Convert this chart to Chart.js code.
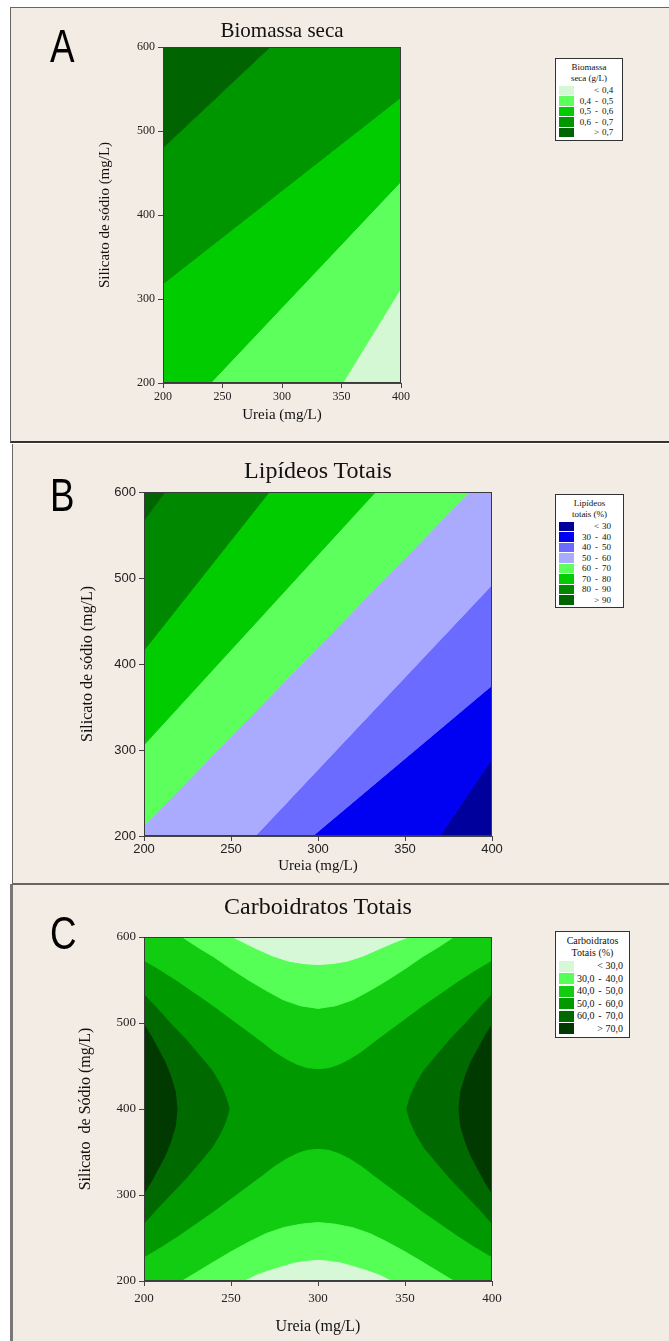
<!DOCTYPE html>
<html lang="pt">
<head>
<meta charset="utf-8">
<title>Superfícies de resposta</title>
<script src="https://cdn.jsdelivr.net/npm/chart.js@4.4.1/dist/chart.umd.min.js"></script>
<style>
  body { margin: 0; width: 669px; height: 1341px; position: relative; overflow: hidden; background: #fff;
         font-family: 'Liberation Serif', 'Times New Roman', serif; }
  .panel { position: absolute; background: #f3ece4; box-sizing: border-box; }
  canvas { position: absolute; left: 0; }
  .ttl { position: absolute; transform: translate(-50%, -50%); white-space: nowrap; color: #111; }
  .tag { position: absolute; font-family: 'Liberation Sans', Arial, sans-serif; font-size: 46px; line-height: 1;
         color: #000; transform: scaleX(0.8); transform-origin: left top; }
  .leg { position: absolute; background: #fff; border: 1px solid #333; font-size: 9px; color: #111;
         padding: 3px 3px 2px 3px; box-sizing: border-box; }
  .leg .hd { text-align: center; line-height: 10.5px; }
  .leg table { border-collapse: collapse; margin-top: 2px; }
  .leg td { padding: 0; height: 10.5px; line-height: 10px; white-space: nowrap; }
  .leg .sw { width: 15px; height: 9.5px; margin-right: 3px; }
  .leg .a { text-align: right; min-width: 14px; }
  .leg .m { text-align: center; width: 11px; }
  .leg .b { text-align: right; }
  #legC { font-size: 10px; }
  #legC .hd { line-height: 11.5px; }
  #legC td { height: 12.5px; line-height: 12px; }
  #legC .sw { height: 11px; }
</style>
</head>
<body>
<div class="panel" style="left:10px;top:7px;width:662px;height:436px;border:1px solid #666;border-bottom:2px solid #333"></div>
<div class="panel" style="left:12px;top:444px;width:660px;height:440px;border-left:1px solid #666;border-bottom:1px solid #666"></div>
<div class="panel" style="left:10px;top:884px;width:662px;height:470px;border-left:3px solid #777;border-top:1px solid #666"></div>

<canvas id="cA" width="555" height="440" style="top:0px"></canvas>
<canvas id="cB" width="555" height="436" style="top:445px"></canvas>
<canvas id="cC" width="555" height="460" style="top:884px"></canvas>

<div class="tag" style="left:50px;top:23px">A</div>
<div class="tag" style="left:50px;top:472px">B</div>
<div class="tag" style="left:50px;top:910px">C</div>

<div class="ttl" style="left:282px;top:30px;font-size:21px">Biomassa seca</div>
<div class="ttl" style="left:318px;top:470px;font-size:24px">Lipídeos Totais</div>
<div class="ttl" style="left:318px;top:906px;font-size:24px">Carboidratos Totais</div>

<div class="leg" id="legA" style="left:555px;top:58px;width:68px"></div>
<div class="leg" id="legB" style="left:555px;top:494px;width:69px"></div>
<div class="leg" id="legC" style="left:555px;top:931px;width:75px"></div>

<script>
// eixos comuns
const xTicks = [200, 250, 300, 350, 400];
const yTicks = [200, 300, 400, 500, 600];

// A - Biomassa seca (g/L): faixas, vértices (ureia, silicato)
const bioHead = ['Biomassa', 'seca (g/L)'];
const bioLabels = [['', '<', '0,4'], ['0,4', '-', '0,5'], ['0,5', '-', '0,6'], ['0,6', '-', '0,7'], ['', '>', '0,7']];
const bioColors = ['#d4f8d4', '#5cff5c', '#00cc00', '#009600', '#006400'];
const bioBands = [
    [[351, 200], [400, 313], [400, 200]],
    [[240, 200], [400, 440], [400, 313], [351, 200]],
    [[200, 318], [400, 540], [400, 440], [240, 200], [200, 200]],
    [[200, 480], [290, 600], [400, 600], [400, 540], [200, 318]],
    [[200, 600], [290, 600], [200, 480]]
];

// B - Lipídeos totais (%)
const lipHead = ['Lipídeos', 'totais (%)'];
const lipLabels = [['', '<', '30'], ['30', '-', '40'], ['40', '-', '50'], ['50', '-', '60'],
                   ['60', '-', '70'], ['70', '-', '80'], ['80', '-', '90'], ['', '>', '90']];
const lipColors = ['#00009c', '#0000f2', '#6b6bff', '#aaaaff', '#5cff5c', '#00cc00', '#008800', '#006400'];
const lipBands = [
    [[370, 200], [400, 290], [400, 200]],
    [[297, 200], [400, 375], [400, 290], [370, 200]],
    [[264, 200], [400, 492], [400, 375], [297, 200]],
    [[200, 212], [387, 600], [400, 600], [400, 492], [264, 200], [200, 200]],
    [[200, 306], [333, 600], [387, 600], [200, 212]],
    [[200, 416], [272, 600], [333, 600], [200, 306]],
    [[200, 567], [212, 600], [272, 600], [200, 416]],
    [[200, 600], [212, 600], [200, 567]]
];

// C - Carboidratos totais (%): curvas de nível
const carbHead = ['Carboidratos', 'Totais (%)'];
const carbLabels = [['', '<', '30,0'], ['30,0', '-', '40,0'], ['40,0', '-', '50,0'],
                    ['50,0', '-', '60,0'], ['60,0', '-', '70,0'], ['', '>', '70,0']];
const carbColors = ['#d6f8d6', '#55ff55', '#11cc11', '#009900', '#006a00', '#003a00'];
const carbTop50 = [[200, 573], [210, 561], [220, 548], [230, 534], [240, 520], [250, 505], [260, 490], [268, 478],
                   [275, 467], [282, 458], [288, 452], [294, 448], [300, 447], [306, 448], [312, 452], [318, 458],
                   [325, 467], [332, 478], [340, 490], [350, 505], [360, 520], [370, 534], [380, 548], [390, 561], [400, 573]];
const carbTop40 = [[222, 600], [231, 588], [240, 577], [250, 563], [260, 550], [270, 538], [280, 527], [290, 520],
                   [300, 517], [310, 520], [320, 527], [330, 538], [340, 550], [350, 563], [360, 577], [369, 588], [378, 600]];
const carbTop30 = [[251, 600], [258, 593], [265, 586], [274, 578], [283, 572], [292, 569], [300, 568],
                   [308, 569], [317, 572], [326, 578], [335, 586], [343, 593], [352, 600]];
const carbBot50 = [[200, 227], [210, 239], [220, 252], [230, 266], [240, 280], [250, 295], [260, 310], [268, 322],
                   [275, 333], [282, 342], [288, 348], [294, 352], [300, 353], [306, 352], [312, 348], [318, 342],
                   [325, 333], [332, 322], [340, 310], [350, 295], [360, 280], [370, 266], [380, 252], [390, 239], [400, 227]];
const carbBot40 = [[222, 200], [231, 211], [240, 222], [250, 234], [260, 245], [270, 255], [280, 262], [290, 266],
                   [300, 268], [310, 266], [320, 262], [330, 255], [340, 245], [350, 234], [360, 222], [369, 211], [378, 200]];
const carbBot30 = [[258, 200], [265, 207], [272, 212], [280, 217], [287, 221], [294, 223], [300, 224],
                   [306, 223], [313, 221], [320, 217], [328, 212], [335, 207], [342, 200]];
const carbLeft60 = [[200, 533], [207, 518], [215, 500], [224, 481], [232, 462], [239, 445], [244, 428], [247, 414],
                    [249, 400], [247, 386], [244, 372], [239, 355], [232, 338], [224, 319], [215, 300], [207, 283], [200, 267]];
const carbLeft70 = [[200, 498], [204, 485], [208, 470], [212, 455], [215, 440], [218, 420], [219, 400],
                    [218, 380], [215, 360], [212, 345], [208, 330], [204, 315], [200, 302]];
const carbRight60 = [[400, 533], [393, 518], [385, 500], [376, 481], [368, 462], [361, 445], [356, 428], [353, 414],
                     [351, 400], [353, 386], [356, 372], [361, 355], [368, 338], [376, 319], [385, 300], [393, 283], [400, 267]];
const carbRight70 = [[400, 498], [396, 485], [392, 470], [388, 455], [385, 440], [382, 420], [381, 400],
                     [382, 380], [385, 360], [388, 345], [392, 330], [396, 315], [400, 302]];

// caixa em volta da área do gráfico
const frame = {
    id: 'frame',
    afterDatasetsDraw(chart) {
        const { ctx, chartArea: a } = chart;
        ctx.save();
        ctx.strokeStyle = '#3a3a3a';
        ctx.lineWidth = 1;
        ctx.strokeRect(a.left + 0.5, a.top + 0.5, a.right - a.left - 1, a.bottom - a.top - 1);
        ctx.restore();
    }
};

function buildLegend(id, head, rows, colors) {
    let html = '<div class="hd">' + head.join('<br>') + '</div><table>';
    rows.forEach((r, i) => {
        html += `<tr><td><div class="sw" style="background:${colors[i]}"></div></td>` +
                `<td class="a">${r[0]}</td><td class="m">${r[1]}</td><td class="b">${r[2]}</td></tr>`;
    });
    document.getElementById(id).innerHTML = html + '</table>';
}

// geo: área do gráfico em coordenadas da página, posição dos títulos dos eixos
function drawPanel(id, geo, shapes, f) {
    const cv = document.getElementById(id);
    const top = geo.top;
    const padLeft = geo.yTitleX - f.yTitle * 0.6;
    const xBottom = geo.xTitleY + f.xTitle * 0.6;
    const tickFont = { family: f.tickFamily, size: f.tick };

    new Chart(cv, {
        type: 'scatter',
        data: {
            datasets: shapes.map((s, i) => ({
                data: s.pts.concat([s.pts[0]]).map(p => ({ x: p[0], y: p[1] })),
                showLine: true,
                fill: 'shape',
                backgroundColor: s.color,
                borderColor: s.color,
                borderWidth: 1,
                pointRadius: 0,
                pointHoverRadius: 0,
                tension: 0,
                order: shapes.length - i
            }))
        },
        options: {
            responsive: false,
            animation: false,
            events: [],
            layout: {
                padding: { left: padLeft, top: geo.T - top, right: cv.width - geo.R, bottom: top + cv.height - xBottom }
            },
            scales: {
                x: {
                    type: 'linear', min: 200, max: 400,
                    afterBuildTicks: s => { s.ticks = xTicks.map(v => ({ value: v })); },
                    afterFit: s => { s.height = xBottom - geo.B; },
                    grid: { drawOnChartArea: false, tickLength: 5, color: '#444' },
                    border: { color: '#444' },
                    ticks: { font: tickFont, color: '#222', padding: geo.tickPad, autoSkip: false, maxRotation: 0 },
                    title: { display: true, text: 'Ureia (mg/L)', color: '#111', padding: 0,
                             font: { family: 'Liberation Serif', size: f.xTitle } }
                },
                y: {
                    type: 'linear', min: 200, max: 600,
                    afterBuildTicks: s => { s.ticks = yTicks.map(v => ({ value: v })); },
                    afterFit: s => { s.width = geo.L - padLeft; },
                    grid: { drawOnChartArea: false, tickLength: 5, color: '#444' },
                    border: { color: '#444' },
                    ticks: { font: tickFont, color: '#222', padding: 3, autoSkip: false },
                    title: { display: true, text: geo.yTitle, color: '#111', padding: 0,
                             font: { family: 'Liberation Serif', size: f.yTitle } }
                }
            },
            plugins: { legend: { display: false }, tooltip: { enabled: false } }
        },
        plugins: [frame]
    });
}

buildLegend('legA', bioHead, bioLabels, bioColors);
buildLegend('legB', lipHead, lipLabels, lipColors);
buildLegend('legC', carbHead, carbLabels, carbColors);

drawPanel('cA',
    { top: 0, L: 163, T: 47, R: 401, B: 383, yTitleX: 105, xTitleY: 415, tickPad: 2, yTitle: 'Silicato de sódio (mg/L)' },
    bioBands.map((pts, i) => ({ pts, color: bioColors[i] })),
    { tickFamily: 'Liberation Serif', tick: 12, xTitle: 15, yTitle: 15 });

drawPanel('cB',
    { top: 445, L: 144, T: 492, R: 492, B: 836, yTitleX: 88, xTitleY: 866, tickPad: 1, yTitle: 'Silicato de sódio (mg/L)' },
    lipBands.map((pts, i) => ({ pts, color: lipColors[i] })),
    { tickFamily: 'Liberation Sans', tick: 13, xTitle: 15, yTitle: 16 });

drawPanel('cC',
    { top: 884, L: 144, T: 937, R: 492, B: 1281, yTitleX: 86, xTitleY: 1327, tickPad: 5, yTitle: 'Silicato  de Sódio (mg/L)' },
    [
        { pts: [[200, 200], [400, 200], [400, 600], [200, 600]], color: carbColors[3] },
        { pts: carbTop50.concat([[400, 600], [200, 600]]), color: carbColors[2] },
        { pts: carbBot50.concat([[400, 200], [200, 200]]), color: carbColors[2] },
        { pts: carbLeft60, color: carbColors[4] },
        { pts: carbRight60, color: carbColors[4] },
        { pts: carbTop40, color: carbColors[1] },
        { pts: carbBot40, color: carbColors[1] },
        { pts: carbTop30, color: carbColors[0] },
        { pts: carbBot30, color: carbColors[0] },
        { pts: carbLeft70, color: carbColors[5] },
        { pts: carbRight70, color: carbColors[5] }
    ],
    { tickFamily: 'Liberation Serif', tick: 13, xTitle: 16, yTitle: 16 });
</script>
</body>
</html>
